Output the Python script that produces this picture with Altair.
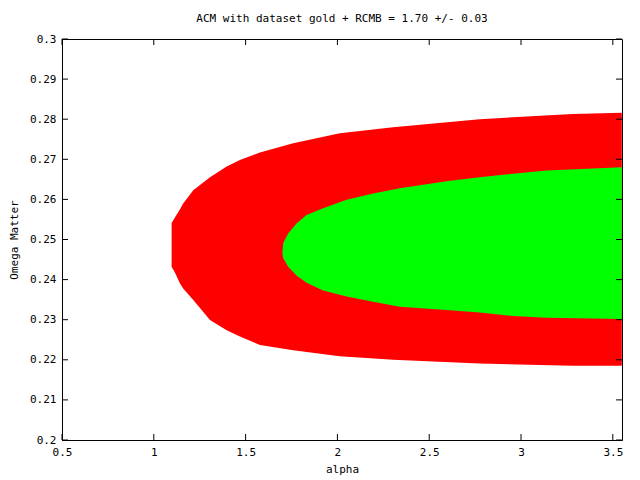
import altair as alt
import pandas as pd

# Outer (red) confidence region: alpha, lower and upper Omega Matter
red_alpha = [1.097, 1.115, 1.142, 1.160, 1.215, 1.306, 1.397, 1.469, 1.578, 1.759, 2.013, 2.303, 2.775, 3.283, 3.549]
red_lo = [0.2432, 0.2418, 0.2391, 0.2378, 0.2349, 0.2299, 0.2274, 0.2258, 0.2237, 0.2224, 0.2209, 0.2200, 0.2191, 0.2185, 0.2185]
red_hi = [0.2541, 0.2555, 0.2575, 0.2590, 0.2623, 0.2655, 0.2682, 0.2698, 0.2717, 0.2740, 0.2765, 0.2780, 0.2800, 0.2813, 0.2816]

# Inner (green) confidence region
green_alpha = [1.701, 1.705, 1.732, 1.777, 1.832, 1.922, 2.050, 2.195, 2.340, 2.594, 2.775, 2.957, 3.138, 3.549]
green_lo = [0.2462, 0.2453, 0.2432, 0.2410, 0.2392, 0.2373, 0.2358, 0.2345, 0.2332, 0.2324, 0.2318, 0.2309, 0.2305, 0.2302]
green_hi = [0.2470, 0.2491, 0.2515, 0.2540, 0.2561, 0.2578, 0.2599, 0.2615, 0.2628, 0.2645, 0.2655, 0.2664, 0.2672, 0.2680]

x_ticks = [0.5, 1, 1.5, 2, 2.5, 3, 3.5]
y_ticks = [0.2, 0.21, 0.22, 0.23, 0.24, 0.25, 0.26, 0.27, 0.28, 0.29, 0.3]

W, H = 560, 401
FONT = "DejaVu Sans Mono"

red_df = pd.DataFrame({"alpha": red_alpha, "lo": red_lo, "hi": red_hi})
green_df = pd.DataFrame({"alpha": green_alpha, "lo": green_lo, "hi": green_hi})
xt_df = pd.DataFrame({"v": x_ticks})
yt_df = pd.DataFrame({"v": y_ticks})

xscale = alt.Scale(domain=[0.5, 3.55], nice=False, zero=False)
yscale = alt.Scale(domain=[0.2, 0.3], nice=False, zero=False)

xaxis = alt.Axis(values=x_ticks, format=".1~f", title="alpha", grid=False, ticks=False,
                 domain=True, domainColor="black", domainWidth=1, labelFlush=False,
                 labelFont=FONT, labelFontSize=11, labelColor="black",
                 titleFont=FONT, titleFontSize=11, titleFontWeight="normal", titlePadding=6,
                 labelPadding=6)
yaxis = alt.Axis(values=y_ticks, format=".2~f", title="Omega Matter", grid=False, ticks=False,
                 domain=True, domainColor="black", domainWidth=1, labelFlush=False,
                 labelFont=FONT, labelFontSize=11, labelColor="black",
                 titleFont=FONT, titleFontSize=11, titleFontWeight="normal", titlePadding=10,
                 labelPadding=6)

red = alt.Chart(red_df).mark_area(color="#ff0000", clip=True).encode(
    x=alt.X("alpha:Q", scale=xscale, axis=xaxis),
    y=alt.Y("lo:Q", scale=yscale, axis=yaxis),
    y2="hi:Q",
)
green = alt.Chart(green_df).mark_area(color="#00ff00", clip=True).encode(
    x=alt.X("alpha:Q", scale=xscale),
    y=alt.Y("lo:Q", scale=yscale),
    y2="hi:Q",
)

tk = 6
xt_bot = alt.Chart(xt_df).mark_rule(color="black").encode(
    x=alt.X("v:Q", scale=xscale), y=alt.value(H), y2=alt.value(H - tk))
xt_top = alt.Chart(xt_df).mark_rule(color="black").encode(
    x=alt.X("v:Q", scale=xscale), y=alt.value(0), y2=alt.value(tk))
yt_left = alt.Chart(yt_df).mark_rule(color="black").encode(
    y=alt.Y("v:Q", scale=yscale), x=alt.value(0), x2=alt.value(tk))
yt_right = alt.Chart(yt_df).mark_rule(color="black").encode(
    y=alt.Y("v:Q", scale=yscale), x=alt.value(W), x2=alt.value(W - tk))

chart = alt.layer(red, green, xt_bot, xt_top, yt_left, yt_right).properties(
    width=W, height=H,
    background="white",
    title=alt.Title("ACM with dataset gold + RCMB = 1.70 +/- 0.03", font=FONT, fontSize=11,
                    fontWeight="normal", color="black", offset=9),
    autosize=alt.AutoSizeParams(type="none"),
    padding={"left": 54, "top": 31, "right": 10, "bottom": 40},
).configure_view(stroke="black", strokeWidth=1, strokeOpacity=1)

chart.save("out.html", embed_options={"renderer": "svg", "actions": False})
